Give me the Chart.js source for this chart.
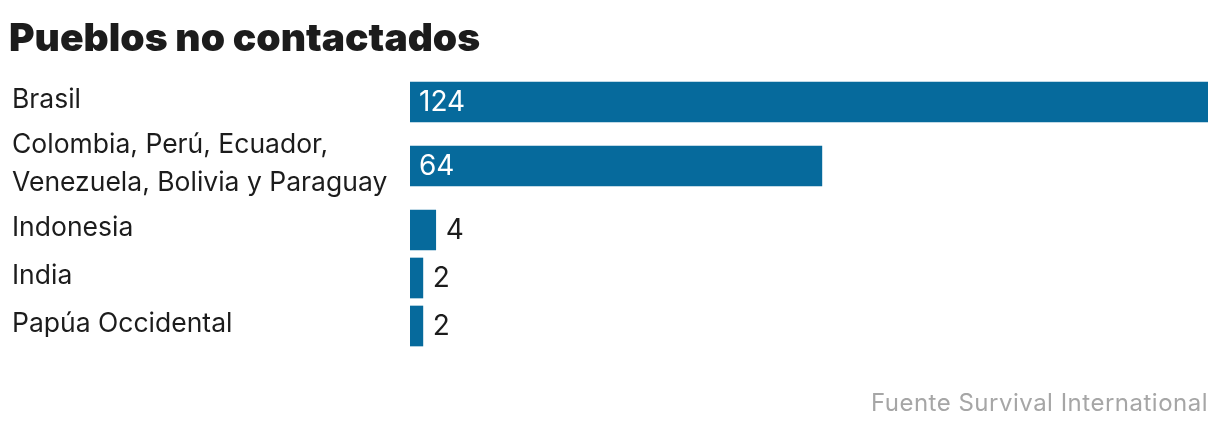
<!DOCTYPE html>
<html><head><meta charset="utf-8">
<script src="https://cdn.jsdelivr.net/npm/chart.js@4"></script>
<style>html,body{margin:0;padding:0;background:#fff;}#wrap{width:1220px;height:430px;}</style>
</head><body><div id="wrap"><canvas id="c" width="1220" height="430"></canvas></div>
<script>
const titleText = 'Pueblos no contactados';
const sourceText = 'Fuente Survival International';
const categories = [
  ['Brasil'],
  ['Colombia, Perú, Ecuador,', 'Venezuela, Bolivia y Paraguay'],
  ['Indonesia'],
  ['India'],
  ['Papúa Occidental']
];
const values = [124, 64, 4, 2, 2];
const xMax = 124;

// layout: row spacing depends on number of label lines (units of 16px)
const rowUnits = categories.map(l => l.length > 1 ? 5 : 3);
const rowPos = [];
rowUnits.forEach((u, i) => {
  rowPos.push(i === 0 ? 0 : rowPos[i - 1] + (rowUnits[i - 1] + u) / 2);
});

const FONT = "Inter, 'Liberation Sans', Arial, sans-serif";
const BAR = '#066a9c';
const TEXT = '#1c1c1c';

const textPlugin = {
  id: 'texts',
  afterDraw(chart) {
    const ctx = chart.ctx;
    ctx.save();
    ctx.fillStyle = TEXT;
    ctx.textBaseline = 'alphabetic';
    ctx.textAlign = 'left';
    ctx.font = "900 39px " + FONT;
    ctx.fillText(titleText, 9, 51);
    ctx.fillStyle = '#a6a6a6';
    ctx.font = "24px " + FONT;
    if ('letterSpacing' in ctx) ctx.letterSpacing = '0.5px';
    ctx.textAlign = 'right';
    ctx.fillText(sourceText, 1208, 411);
    ctx.restore();
  },
  afterDatasetsDraw(chart) {
    const ctx = chart.ctx;
    const meta = chart.getDatasetMeta(0);
    ctx.save();
    ctx.font = "28px " + FONT;
    ctx.textBaseline = 'alphabetic';
    ctx.textAlign = 'left';
    meta.data.forEach((bar, i) => {
      const w = bar.x - bar.base;
      const label = String(values[i]);
      if (w > 60) {
        ctx.fillStyle = '#ffffff';
        ctx.fillText(label, bar.base + 9, bar.y + 9);
      } else {
        ctx.fillStyle = TEXT;
        ctx.fillText(label, bar.x + 10, bar.y + 9);
      }
    });
    ctx.restore();
  }
};

new Chart(document.getElementById('c'), {
  type: 'bar',
  data: {
    datasets: [{
      data: values.map((v, i) => ({ x: v, y: rowPos[i] })),
      backgroundColor: BAR,
      borderWidth: 0,
      barThickness: 40
    }]
  },
  options: {
    indexAxis: 'y',
    responsive: false,
    animation: false,
    events: [],
    layout: { padding: { top: 70, bottom: 72, left: 12, right: 12 } },
    plugins: { legend: { display: false }, tooltip: { enabled: false } },
    scales: {
      x: { type: 'linear', min: 0, max: xMax, display: false },
      y: {
        type: 'linear',
        reverse: true,
        offset: false,
        min: rowPos[0] - 2,
        max: rowPos[rowPos.length - 1] + 2,
        grid: { display: false, offset: false },
        border: { display: false },
        afterBuildTicks(scale) { scale.ticks = rowPos.map(v => ({ value: v })); },
        afterFit(scale) {
          scale.width = 398;
          scale.paddingTop = 0; scale.paddingBottom = 0;
          scale.paddingLeft = 0; scale.paddingRight = 0;
        },
        ticks: {
          autoSkip: false,
          crossAlign: 'far',
          labelOffset: -2,
          color: TEXT,
          font: { family: FONT, size: 26.5, lineHeight: 1.4 },
          callback(value) {
            const i = rowPos.indexOf(value);
            return i >= 0 ? categories[i] : '';
          }
        }
      }
    }
  },
  plugins: [textPlugin]
});
</script>
</body></html>
